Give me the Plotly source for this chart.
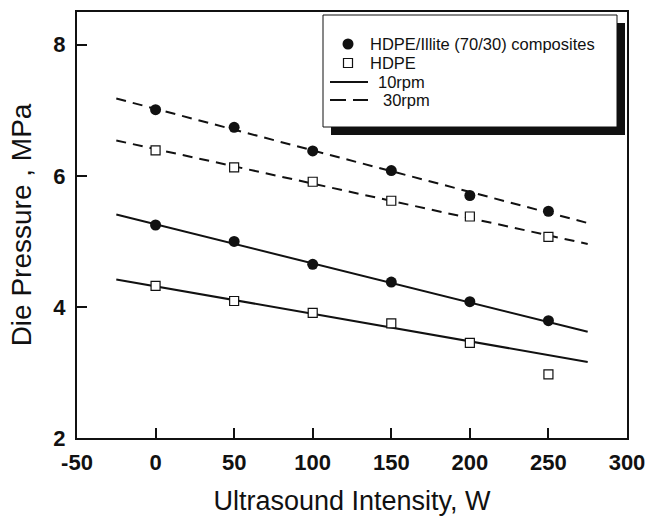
import plotly.graph_objects as go

# ---- data ----
intensity = [0, 50, 100, 150, 200, 250]
comp_30rpm = [7.01, 6.74, 6.38, 6.08, 5.70, 5.46]
hdpe_30rpm = [6.39, 6.13, 5.91, 5.62, 5.38, 5.07]
comp_10rpm = [5.25, 5.00, 4.65, 4.38, 4.08, 3.79]
hdpe_10rpm = [4.32, 4.09, 3.91, 3.75, 3.45, 2.97]

fit_x = [-25, 275]
comp_30rpm_fit = [7.18, 5.28]
hdpe_30rpm_fit = [6.54, 4.96]
comp_10rpm_fit = [5.41, 3.62]
hdpe_10rpm_fit = [4.42, 3.16]

x_ticks = [-50, 0, 50, 100, 150, 200, 250, 300]
y_ticks = [2, 4, 6, 8]

legend_names = ["HDPE/Illite (70/30) composites", "HDPE", "10rpm", "30rpm"]

FONT = "Liberation Sans, Arial, Helvetica, sans-serif"
BLACK = "#111111"

fig = go.Figure()

dash30 = "10px,7px"
# fitted lines
for yv, dash in [(comp_10rpm_fit, "solid"), (hdpe_10rpm_fit, "solid"),
                 (comp_30rpm_fit, dash30), (hdpe_30rpm_fit, dash30)]:
    fig.add_trace(go.Scatter(x=fit_x, y=yv, mode="lines",
                             line=dict(color=BLACK, width=2, dash=dash), showlegend=False))

# data markers
circ = dict(symbol="circle", size=11, color=BLACK, line=dict(width=0))
sq = dict(symbol="square", size=9, color="white", line=dict(color=BLACK, width=1.2))
fig.add_trace(go.Scatter(x=intensity, y=comp_10rpm, mode="markers", marker=circ,
                         name=legend_names[0], showlegend=False))
fig.add_trace(go.Scatter(x=intensity, y=comp_30rpm, mode="markers", marker=circ,
                         name=legend_names[0], showlegend=False))
fig.add_trace(go.Scatter(x=intensity, y=hdpe_10rpm, mode="markers", marker=sq,
                         name=legend_names[1], showlegend=False))
fig.add_trace(go.Scatter(x=intensity, y=hdpe_30rpm, mode="markers", marker=sq,
                         name=legend_names[1], showlegend=False))

W, H = 649, 516
L, R, T, B = 77, 22, 12, 78
pw, ph = W - L - R, H - T - B

def px(x):
    return (x - L) / pw

def py(y):
    return (H - B - y) / ph

# ---- legend box with drop shadow (drawn as decoration) ----
box = (323, 15, 617, 127)
sh = 8
fig.add_shape(type="rect", xref="paper", yref="paper",
              x0=px(box[0] + sh), x1=px(box[2] + sh), y0=py(box[3] + sh), y1=py(box[1] + sh),
              fillcolor=BLACK, line=dict(width=0), layer="above")
fig.add_shape(type="rect", xref="paper", yref="paper",
              x0=px(box[0]), x1=px(box[2]), y0=py(box[3]), y1=py(box[1]),
              fillcolor="white", line=dict(color=BLACK, width=1), layer="above")

rows = [44, 63, 82, 100]
sym_x = 348
# circle symbol
r = 5.5
fig.add_shape(type="circle", xref="paper", yref="paper",
              x0=px(sym_x - r), x1=px(sym_x + r), y0=py(rows[0] + r), y1=py(rows[0] - r),
              fillcolor=BLACK, line=dict(width=0), layer="above")
# square symbol
s = 4.5
fig.add_shape(type="rect", xref="paper", yref="paper",
              x0=px(sym_x - s), x1=px(sym_x + s), y0=py(rows[1] + s), y1=py(rows[1] - s),
              fillcolor="white", line=dict(color=BLACK, width=1.2), layer="above")
# solid line sample
fig.add_shape(type="line", xref="paper", yref="paper",
              x0=px(330), x1=px(368), y0=py(rows[2]), y1=py(rows[2]),
              line=dict(color=BLACK, width=2), layer="above")
# dashed line sample
for a, b in [(330, 346), (353, 368)]:
    fig.add_shape(type="line", xref="paper", yref="paper",
                  x0=px(a), x1=px(b), y0=py(rows[3]), y1=py(rows[3]),
                  line=dict(color=BLACK, width=2), layer="above")

text_x = [368, 368, 376, 381]
for name, tx, ry in zip(legend_names, text_x, rows):
    fig.add_annotation(x=px(tx), y=py(ry), xref="paper", yref="paper",
                       text=name, showarrow=False, xanchor="left", yanchor="middle",
                       font=dict(size=16.5, family=FONT, color=BLACK))

fig.update_layout(
    width=W, height=H, autosize=False,
    margin=dict(l=L, r=R, t=T, b=B, pad=0, autoexpand=False),
    paper_bgcolor="white", plot_bgcolor="white",
    font=dict(family=FONT, color=BLACK),
    showlegend=False,
)

axis_common = dict(showline=True, linecolor=BLACK, linewidth=2, mirror=True,
                   ticks="inside", ticklen=10, tickwidth=1.5, tickcolor=BLACK,
                   showgrid=False, zeroline=False, automargin=False,
                   tickfont=dict(size=22, family=FONT, color=BLACK, weight="bold"))

fig.update_xaxes(range=[-50, 300], tickvals=x_ticks, ticktext=[str(v) for v in x_ticks],
                 title=dict(text="Ultrasound Intensity, W", font=dict(size=27, family=FONT, color=BLACK),
                            standoff=23),
                 ticklabelstandoff=4, **axis_common)
fig.update_yaxes(range=[2, 8.5], tickvals=y_ticks, ticktext=[str(v) for v in y_ticks],
                 title=dict(text="Die Pressure , MPa", font=dict(size=28, family=FONT, color=BLACK),
                            standoff=14),
                 ticklabelstandoff=5, **axis_common)

fig.write_html("out.html", config={"displayModeBar": False})

# remove the default page margin so the figure sits at the window origin
with open("out.html", "r", encoding="utf-8") as f:
    html = f.read()
html = html.replace("<head>", "<head><style>html,body{margin:0;padding:0;overflow:hidden;}</style>", 1)
with open("out.html", "w", encoding="utf-8") as f:
    f.write(html)
